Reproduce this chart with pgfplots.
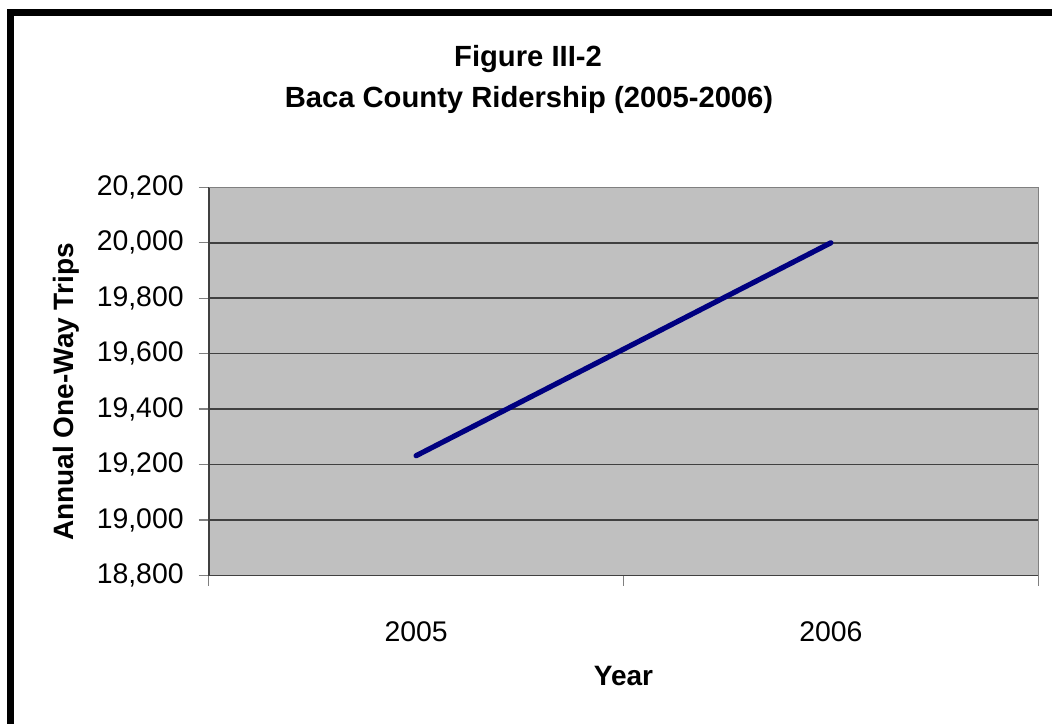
\documentclass[border=0pt]{standalone}
\usepackage{pgfplots}
\pgfplotsset{compat=1.18}
\usepackage{fontspec}
\setmainfont{Liberation Sans}
\definecolor{plotgray}{HTML}{C0C0C0}
\definecolor{gridc}{HTML}{404040}
\definecolor{bordc}{HTML}{808080}
\definecolor{navyline}{HTML}{000080}
\begin{document}
\begin{tikzpicture}
\useasboundingbox (0pt,0pt) rectangle (526pt,-361.5pt);
\draw[line width=3.4pt, black] (5.3pt,-800pt) -- (5.3pt,-6.1pt) -- (800pt,-6.1pt);
\node[anchor=base, inner sep=0pt, font=\fontsize{14.6pt}{17pt}\selectfont\bfseries] at (264pt,-33pt) {Figure III-2};
\node[anchor=base, inner sep=0pt, font=\fontsize{14.6pt}{17pt}\selectfont\bfseries] at (264.5pt,-53.65pt) {Baca County Ridership (2005-2006)};
\node[anchor=base, inner sep=0pt, rotate=90, font=\fontsize{14pt}{16pt}\selectfont\bfseries] at (36.5pt,-196pt) {Annual One-Way Trips};
\node[anchor=base, inner sep=0pt, font=\fontsize{14pt}{16pt}\selectfont\bfseries] at (311.75pt,-342.5pt) {Year};
\begin{axis}[
  at={(104.35pt,-93.65pt)}, anchor=north west,
  width=414.8pt, height=194.1pt, scale only axis,
  xmin=-0.5, xmax=1.5, ymin=18800, ymax=20200,
  ytick={18800,19000,19200,19400,19600,19800,20000,20200},
  xtick={0,1}, xticklabels={2005,2006},
  minor xtick={-0.5,0.5,1.5},
  axis x line*=bottom, axis y line*=left,
  axis line style={gridc, line width=0.8pt},
  tick align=outside,
  major tick length=5pt, minor tick length=5pt,
  tick style={bordc, line width=0.7pt},
  major x tick style={draw=none},
  ymajorgrids=true,
  major grid style={gridc, line width=0.8pt},
  axis background/.style={fill=plotgray},
  scaled y ticks=false,
  ticklabel style={font=\fontsize{14.2pt}{16pt}\selectfont},
  yticklabel style={xshift=-4pt, /pgf/number format/.cd, fixed, precision=0, 1000 sep={,}, assume math mode=true},
  xticklabel style={anchor=base, inner sep=0pt, yshift=-27.75pt},
  clip=false,
]
\addplot[navyline, line width=2.6pt, line cap=round, mark=none] coordinates {(0,19232) (1,20000)};
\draw[bordc, line width=0.8pt] (rel axis cs:0,1) -- (rel axis cs:1,1) -- (rel axis cs:1,0);
\end{axis}
\end{tikzpicture}
\end{document}
